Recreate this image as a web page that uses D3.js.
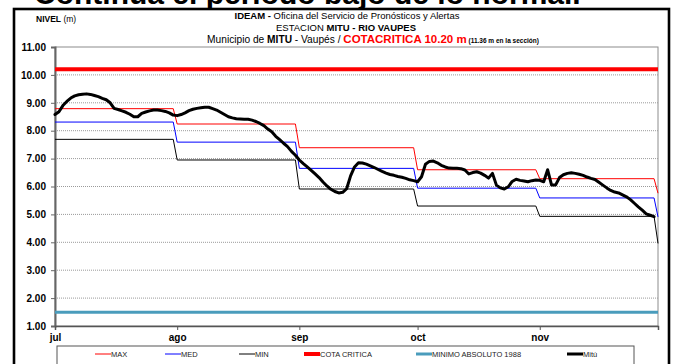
<!DOCTYPE html>
<html>
<head>
<meta charset="utf-8">
<script src="https://cdn.jsdelivr.net/npm/d3@7/dist/d3.min.js"></script>
<style>
  body { margin: 0; background: #fff; }
  svg { display: block; font-family: Arial, "Liberation Sans", sans-serif; }
</style>
</head>
<body>
<svg id="chart" width="676" height="364"></svg>
<script>
// ---- data -------------------------------------------------------------
const monthLabels = ["jul", "ago", "sep", "oct", "nov"];
const monthStarts = ["2011-07-01", "2011-08-01", "2011-09-01", "2011-10-01", "2011-11-01", "2011-12-01"];

// monthly reference levels (last value = start of december)
const maxLevels = [8.79, 8.24, 7.39, 6.60, 6.28, 5.76];
const medLevels = [8.31, 7.59, 6.65, 5.94, 5.59, 4.91];
const minLevels = [7.69, 6.95, 5.91, 5.30, 4.93, 3.96];

const cotaCritica = 10.20;
const minimoAbsoluto1988 = 1.49;

// daily level at Mitú, from 1 July
const mituStart = "2011-07-01";
const mituLevels = [
  8.58, 8.68, 8.90, 9.05, 9.17, 9.25, 9.29, 9.31, 9.32, 9.30,
  9.26, 9.22, 9.16, 9.11, 9.00, 8.80, 8.76, 8.71, 8.66, 8.59,
  8.50, 8.50, 8.62, 8.67, 8.71, 8.74, 8.74, 8.72, 8.69, 8.64,
  8.56, 8.54, 8.58, 8.64, 8.72, 8.77, 8.80, 8.82, 8.84, 8.84,
  8.79, 8.74, 8.66, 8.58, 8.50, 8.46, 8.43, 8.42, 8.41, 8.41,
  8.38, 8.33, 8.26, 8.18, 8.06, 7.96, 7.80, 7.68, 7.55, 7.43,
  7.26, 7.12, 6.95, 6.82, 6.70, 6.58, 6.45, 6.32, 6.16, 6.02,
  5.90, 5.82, 5.77, 5.79, 5.92, 6.38, 6.70, 6.85, 6.84, 6.80,
  6.74, 6.68, 6.61, 6.54, 6.48, 6.43, 6.40, 6.36, 6.33, 6.29,
  6.24, 6.21, 6.17, 6.35, 6.80, 6.90, 6.91, 6.85, 6.76, 6.70,
  6.66, 6.65, 6.65, 6.64, 6.59, 6.45, 6.50, 6.53, 6.48, 6.40,
  6.30, 6.47, 6.05, 5.95, 5.91, 5.99, 6.18, 6.26, 6.22, 6.20,
  6.17, 6.21, 6.23, 6.22, 6.17, 6.60, 6.05, 6.05, 6.32, 6.42,
  6.47, 6.49, 6.47, 6.44, 6.40, 6.34, 6.29, 6.25, 6.15, 6.05,
  5.95, 5.86, 5.80, 5.77, 5.70, 5.63, 5.53, 5.40, 5.27, 5.15,
  5.02, 4.97, 4.92
];

const yTicks = [1, 2, 3, 4, 5, 6, 7, 8, 9, 10, 11];
const legendLabels = ["MAX", "MED", "MIN", "COTA CRITICA", "MINIMO ABSOLUTO 1988", "Mitú"];

// ---- layout -----------------------------------------------------------
const plot = { left: 55, right: 658, top: 47, bottom: 326 };
const colors = {
  max: "#ff0000", med: "#0000ff", min: "#000000",
  cota: "#ff0000", minimo: "#4a9cbc", mitu: "#000000"
};

const parse = d3.utcParse("%Y-%m-%d");
const months = monthStarts.map(parse);

const svg = d3.select("#chart");
svg.append("rect").attr("width", 676).attr("height", 364).attr("fill", "#fff");

const x = d3.scaleUtc().domain([months[0], months[months.length - 1]]).range([plot.left, plot.right]);
const y = d3.scaleLinear().domain([1, 11]).range([plot.bottom, plot.top]);

// ---- headline running above the frame ---------------------------------
svg.append("text")
  .attr("x", 34).attr("y", 3.5)
  .attr("font-size", 30).attr("font-weight", "bold").attr("fill", "#000")
  .text("Continúa el periodo bajo de lo normal.");

// ---- outer frame ------------------------------------------------------
svg.append("rect")
  .attr("x", 14).attr("y", 9).attr("width", 655).attr("height", 380)
  .attr("fill", "#fff").attr("stroke", "#000").attr("stroke-width", 2.6);

// ---- titles -----------------------------------------------------------
const nivel = svg.append("text").attr("x", 36).attr("y", 22).attr("font-size", 8.5).attr("fill", "#000");
nivel.append("tspan").attr("font-weight", "bold").text("NIVEL");
nivel.append("tspan").text(" (m)");

const t1 = svg.append("text").attr("x", 347).attr("y", 18.5).attr("text-anchor", "middle").attr("font-size", 9.5);
t1.append("tspan").attr("font-weight", "bold").text("IDEAM -");
t1.append("tspan").text(" Oficina del Servicio de Pronósticos y Alertas");

const t2 = svg.append("text").attr("x", 346).attr("y", 30.5).attr("text-anchor", "middle").attr("font-size", 9.5);
t2.append("tspan").text("ESTACION ");
t2.append("tspan").attr("font-weight", "bold").text("MITU - RIO VAUPES");

const t3 = svg.append("text").attr("x", 373).attr("y", 42.5).attr("text-anchor", "middle").attr("font-size", 10.2);
t3.append("tspan").text("Municipio de ");
t3.append("tspan").attr("font-weight", "bold").text("MITU");
t3.append("tspan").text(" - Vaupés / ");
t3.append("tspan").attr("font-weight", "bold").attr("fill", "#ff0000").attr("font-size", 11.5)
  .text(`COTACRITICA ${cotaCritica.toFixed(2)} m`);
t3.append("tspan").attr("font-weight", "bold").attr("font-size", 6.5).text("  (11.36 m  en la sección)");

// ---- plot area --------------------------------------------------------
svg.append("rect")
  .attr("x", plot.left).attr("y", plot.top)
  .attr("width", plot.right - plot.left).attr("height", plot.bottom - plot.top)
  .attr("fill", "#fff").attr("stroke", "#8c8c8c").attr("stroke-width", 1);

// dotted grid
svg.append("g").selectAll("line")
  .data(yTicks.filter(v => v > 1 && v < 11))
  .join("line")
  .attr("x1", plot.left).attr("x2", plot.right)
  .attr("y1", d => y(d)).attr("y2", d => y(d))
  .attr("stroke", "#9a9a9a").attr("stroke-width", 1).attr("stroke-dasharray", "1,1");

// y axis
const yAxis = svg.append("g")
  .attr("transform", `translate(${plot.left},0)`)
  .call(d3.axisLeft(y).tickValues(yTicks).tickFormat(d3.format(".2f")).tickSize(4).tickPadding(5));
yAxis.select(".domain").attr("stroke", "#666").attr("stroke-width", 2);
yAxis.selectAll(".tick line").attr("stroke", "#666");
yAxis.selectAll("text").attr("font-size", 10).attr("font-weight", "bold").attr("fill", "#000")
  .attr("font-family", "Arial, 'Liberation Sans', sans-serif");

// x axis
const xAxis = svg.append("g")
  .attr("transform", `translate(0,${plot.bottom})`)
  .call(d3.axisBottom(x).tickValues(months.slice(0, 5)).tickFormat((d, i) => monthLabels[i]).tickSize(4).tickPadding(4));
xAxis.select(".domain").attr("stroke", "#555").attr("stroke-width", 1.5);
xAxis.selectAll(".tick line").attr("stroke", "#555");
xAxis.selectAll("text").attr("font-size", 10).attr("font-weight", "bold").attr("fill", "#000")
  .attr("font-family", "Arial, 'Liberation Sans', sans-serif");

// ---- series -----------------------------------------------------------
const line = d3.line().x(d => x(d.date)).y(d => y(d.value));

// monthly step lines: flat through each month, slanting into the next
function stepPoints(levels) {
  const pts = [];
  for (let i = 0; i < months.length - 1; i++) {
    pts.push({ date: months[i], value: levels[i] });
    pts.push({ date: d3.utcDay.offset(months[i + 1], -1), value: levels[i] });
  }
  pts.push({ date: months[months.length - 1], value: levels[levels.length - 1] });
  return pts;
}

const domainEnds = x.domain();
const constantLine = v => [{ date: domainEnds[0], value: v }, { date: domainEnds[1], value: v }];

svg.append("path").datum(constantLine(minimoAbsoluto1988)).attr("d", line)
  .attr("fill", "none").attr("stroke", colors.minimo).attr("stroke-width", 3);
svg.append("path").datum(constantLine(cotaCritica)).attr("d", line)
  .attr("fill", "none").attr("stroke", colors.cota).attr("stroke-width", 4);

[[maxLevels, colors.max], [medLevels, colors.med], [minLevels, colors.min]].forEach(([lv, c]) => {
  svg.append("path").datum(stepPoints(lv)).attr("d", line)
    .attr("fill", "none").attr("stroke", c).attr("stroke-width", 1);
});

const start = parse(mituStart);
const mitu = mituLevels.map((v, i) => ({ date: d3.utcDay.offset(start, i), value: v }));
svg.append("path").datum(mitu).attr("d", line)
  .attr("fill", "none").attr("stroke", colors.mitu).attr("stroke-width", 3)
  .attr("stroke-linejoin", "round").attr("stroke-linecap", "round");

// ---- legend -----------------------------------------------------------
svg.append("rect")
  .attr("x", 57).attr("y", 346).attr("width", 577).attr("height", 24)
  .attr("fill", "#fff").attr("stroke", "#555").attr("stroke-width", 1);

const legendStyle = [
  { c: colors.max, w: 1 }, { c: colors.med, w: 1 }, { c: colors.min, w: 1 },
  { c: colors.cota, w: 4 }, { c: colors.minimo, w: 3 }, { c: colors.mitu, w: 3 }
];
const legendX = [95, 165, 239, 304, 416, 567];
const legendY = 354;
const lg = svg.append("g").selectAll("g").data(legendLabels).join("g")
  .attr("transform", (d, i) => `translate(${legendX[i]},${legendY})`);
lg.append("line").attr("x1", 0).attr("x2", 16).attr("y1", 0).attr("y2", 0)
  .attr("stroke", (d, i) => legendStyle[i].c).attr("stroke-width", (d, i) => legendStyle[i].w);
lg.append("text").attr("x", 16).attr("y", 0).attr("dy", "0.35em")
  .attr("font-size", 7.5).attr("fill", "#222").text(d => d);
</script>
</body>
</html>
